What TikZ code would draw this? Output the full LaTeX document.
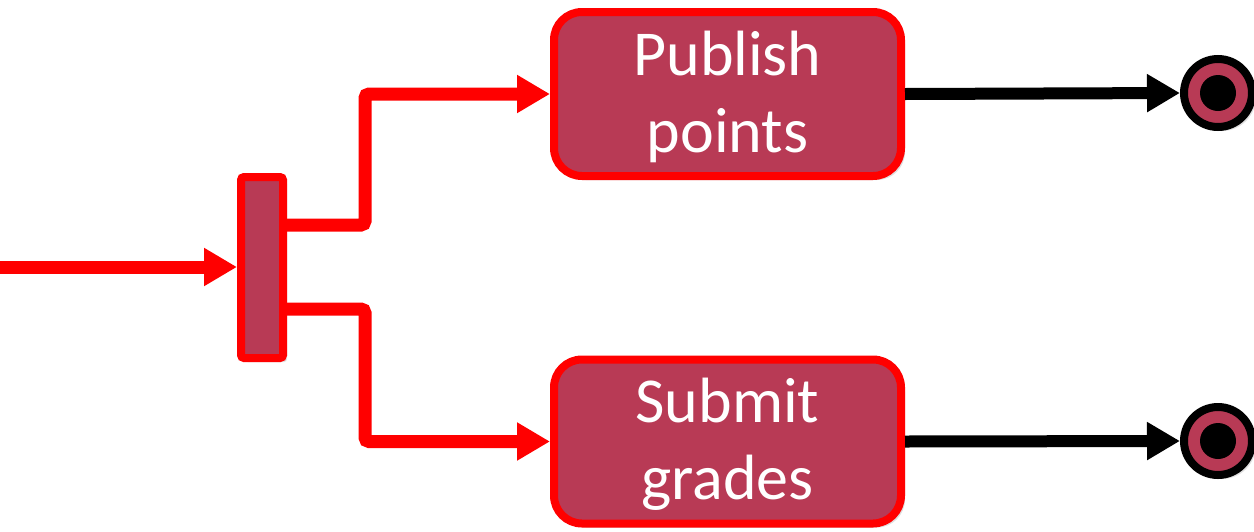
\documentclass[tikz,border=0pt]{standalone}
\usepackage{fontspec}
\setmainfont{Carlito}
\usetikzlibrary{arrows.meta,shadows}
\definecolor{boxfill}{HTML}{B83A55}
\tikzset{
  shad/.style={drop shadow={opacity=0.25, shadow xshift=2pt, shadow yshift=-2pt}},
  actbox/.style={draw=red, fill=boxfill, line width=4pt, rounded corners=14pt,
    minimum width=173.5pt, minimum height=82pt, inner sep=0pt, shad},
  boxtext/.style={text=white, align=center, inner sep=0pt,
    font=\fontsize{32pt}{38.5pt}\selectfont},
  forkbar/.style={draw=red, fill=boxfill, line width=4pt, rounded corners=1.5pt,
    minimum width=21pt, minimum height=90.5pt, inner sep=0pt, shad},
  endring/.style={circle, draw=black, fill=boxfill, line width=4pt,
    minimum size=34pt, inner sep=0pt, shad},
  enddot/.style={circle, fill=black, minimum size=18pt, inner sep=0pt},
  redline/.style={draw=red, line width=6.5pt, rounded corners=2pt,
    -{Triangle[length=16.5pt, width=18pt]}},
  blackline/.style={draw=black, line width=6pt,
    -{Triangle[length=16.5pt, width=18pt]}},
}
\begin{document}
\begin{tikzpicture}[x=0.5pt, y=-0.5pt]
\useasboundingbox (0,0) rectangle (1254,531);
\node[forkbar] (fork) at (262,267.5) {};
\node[actbox] (pub) at (727.5,94) {};
\node[boxtext] (pubt) at ([yshift=-1.5pt]pub.center) {Publish\\points};
\node[actbox] (sub) at (727.5,441.5) {};
\node[boxtext] (subt) at ([yshift=-1.5pt]sub.center) {Submit\\grades};
\node[endring] (e1) at (1218,93) {};
\node[enddot] (d1) at (e1.center) {};
\node[endring] (e2) at (1218,441) {};
\node[enddot] (d2) at (e2.center) {};
\coordinate (start) at (0,267);
\coordinate (ua) at (365,225);
\coordinate (la) at (365,309);
\draw[redline] (start) -- (fork.west |- start);
\draw[redline] (fork.east |- ua) -- (ua) |- (pub.west);
\draw[redline] (fork.east |- la) -- (la) |- (sub.west);
\draw[blackline] (pub.east) -- (e1.west);
\draw[blackline] (sub.east) -- (e2.west);
\end{tikzpicture}
\end{document}
